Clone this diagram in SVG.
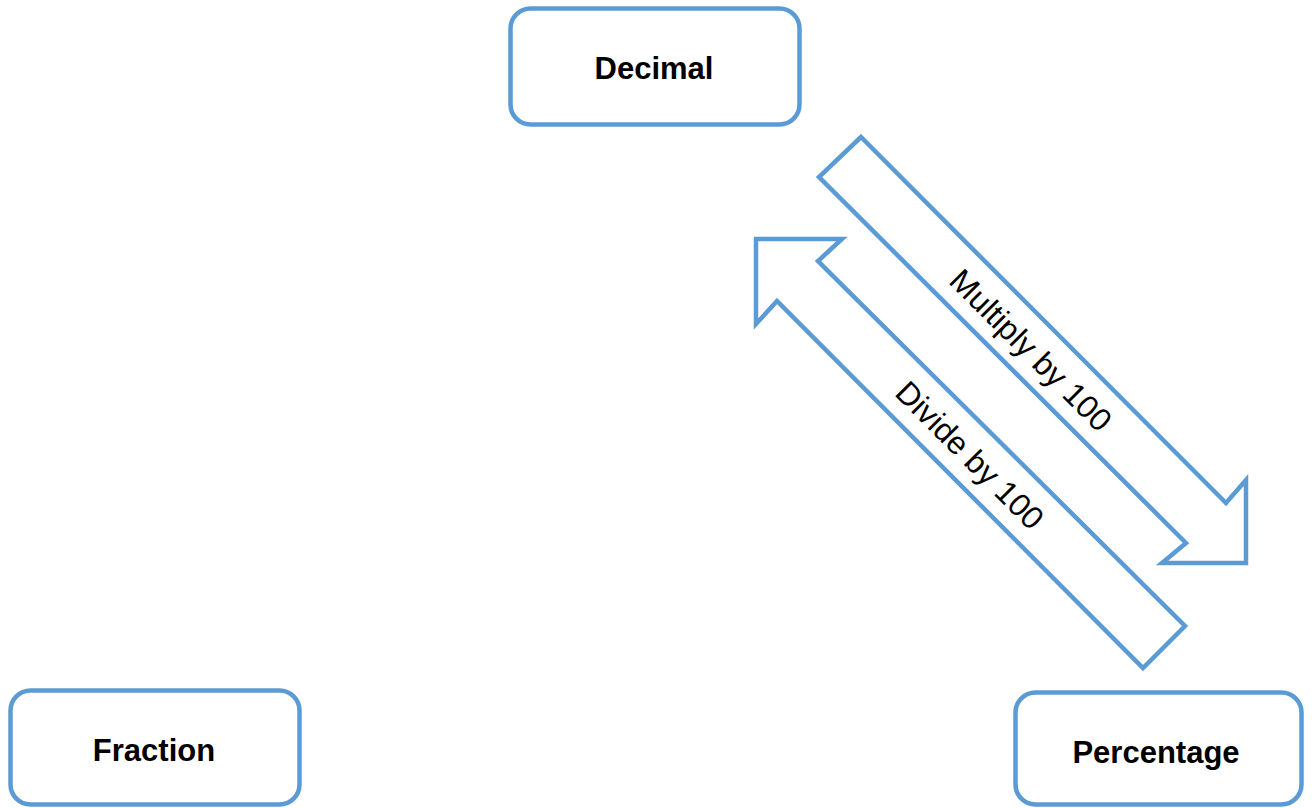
<svg xmlns="http://www.w3.org/2000/svg" width="1312" height="808" viewBox="0 0 1312 808">
  <style>
    .box { fill: #ffffff; stroke: #5B9BD5; stroke-width: 4.5; }
    .arrow { fill: #ffffff; stroke: #5B9BD5; stroke-width: 4.5; stroke-linejoin: miter; }
    .label { font-family: "Liberation Sans", Arial, sans-serif; font-weight: bold; font-size: 31px; fill: #000000; text-anchor: middle; }
    .elabel { font-family: "Liberation Sans", Arial, sans-serif; font-size: 32px; fill: #000000; text-anchor: middle; }
  </style>
  <rect width="1312" height="808" fill="#ffffff"/>
  <g id="connectors">
    <g id="multiply-arrow">
      <polygon class="arrow" points="861,137 1226,503 1246,480 1246,563 1162,563 1186,543 819,177"/>
      <text class="elabel" transform="translate(1023,358) rotate(45)" x="0" y="0">Multiply by 100</text>
    </g>
    <g id="divide-arrow">
      <polygon class="arrow" points="756,239 842,239 818,261 1185,626 1143,668 777,301 756,324"/>
      <text class="elabel" transform="translate(962,463) rotate(45)" x="0" y="0">Divide by 100</text>
    </g>
  </g>
  <g id="node-decimal">
    <rect class="box" x="510.5" y="8.5" width="289" height="116" rx="20" ry="20"/>
    <text class="label" x="654" y="79">Decimal</text>
  </g>
  <g id="node-fraction">
    <rect class="box" x="10.5" y="690.5" width="289" height="114" rx="20" ry="20"/>
    <text class="label" x="154" y="761">Fraction</text>
  </g>
  <g id="node-percentage">
    <rect class="box" x="1015.5" y="692.5" width="286" height="112" rx="20" ry="20"/>
    <text class="label" x="1156" y="763">Percentage</text>
  </g>
</svg>
